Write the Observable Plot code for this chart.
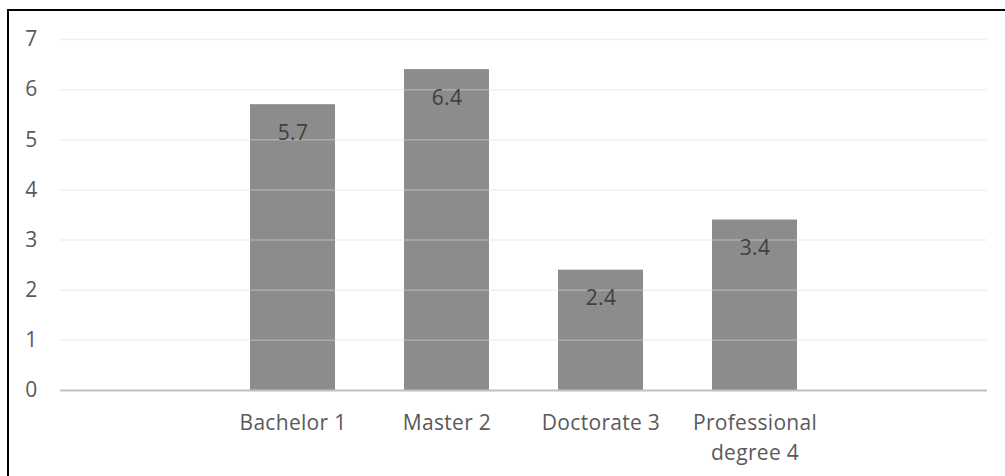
<!DOCTYPE html>
<html>
<head>
<meta charset="utf-8">
<script src="https://cdn.jsdelivr.net/npm/d3@7"></script>
<script src="https://cdn.jsdelivr.net/npm/@observablehq/plot@0.6"></script>
<style>
  html, body { margin: 0; padding: 0; background: #fff; }
  #wrap { position: relative; width: 1005px; height: 476px; overflow: hidden; }
  #frame { position: absolute; left: 7px; top: 9px; width: 1100px; height: 600px;
           border-top: 2px solid #000; border-left: 2px solid #000; pointer-events: none; }
  #wrap svg text { letter-spacing: 0.3px; }
</style>
</head>
<body>
<div id="wrap"><div id="frame"></div></div>
<script>
const categories = ["", "Bachelor 1", "Master 2", "Doctorate 3", "Professional degree 4", " "];
const labels = ["", "Bachelor 1", "Master 2", "Doctorate 3", "Professional\ndegree 4", ""];
const barCategories = ["Bachelor 1", "Master 2", "Doctorate 3", "Professional degree 4"];
const values = [5.7, 6.4, 2.4, 3.4];
const yTicks = [0, 1, 2, 3, 4, 5, 6, 7];

const data = barCategories.map((c, i) => ({category: c, value: values[i]}));
const labelOf = new Map(categories.map((c, i) => [c, labels[i]]));

const chart = Plot.plot({
  width: 1005,
  height: 476,
  marginLeft: 60,
  marginRight: 18,
  marginTop: 39,
  marginBottom: 86,
  style: {fontFamily: "'Open Sans', sans-serif", fontSize: "21px", background: "transparent"},
  x: {domain: categories, paddingInner: 0.45, paddingOuter: 0.225, align: 0.5, label: null},
  y: {domain: [0, 7], label: null},
  marks: [
    Plot.barY(data, {x: "category", y: "value", fill: "#8c8c8c"}),
    Plot.gridY(yTicks.filter(t => t > 0), {stroke: "#d9d9d9", strokeOpacity: 0.4, strokeWidth: 1.5}),
    Plot.ruleY([0], {stroke: "#bfbfbf", strokeWidth: 2}),
    Plot.text(data, {x: "category", y: "value", text: d => d.value.toFixed(1), dy: 28.5,
      fill: "#404040", fontSize: 21}),
    Plot.axisY(yTicks, {tickSize: 0, tickPadding: 23, fill: "#595959", fontSize: 21,
      tickFormat: d3.format("d"), label: null}),
    Plot.axisX({tickSize: 0, tickPadding: 19, fill: "#595959", fontSize: 21, lineHeight: 1.4,
      tickFormat: d => labelOf.get(d), label: null})
  ]
});
document.getElementById("wrap").prepend(chart);
</script>
</body>
</html>
